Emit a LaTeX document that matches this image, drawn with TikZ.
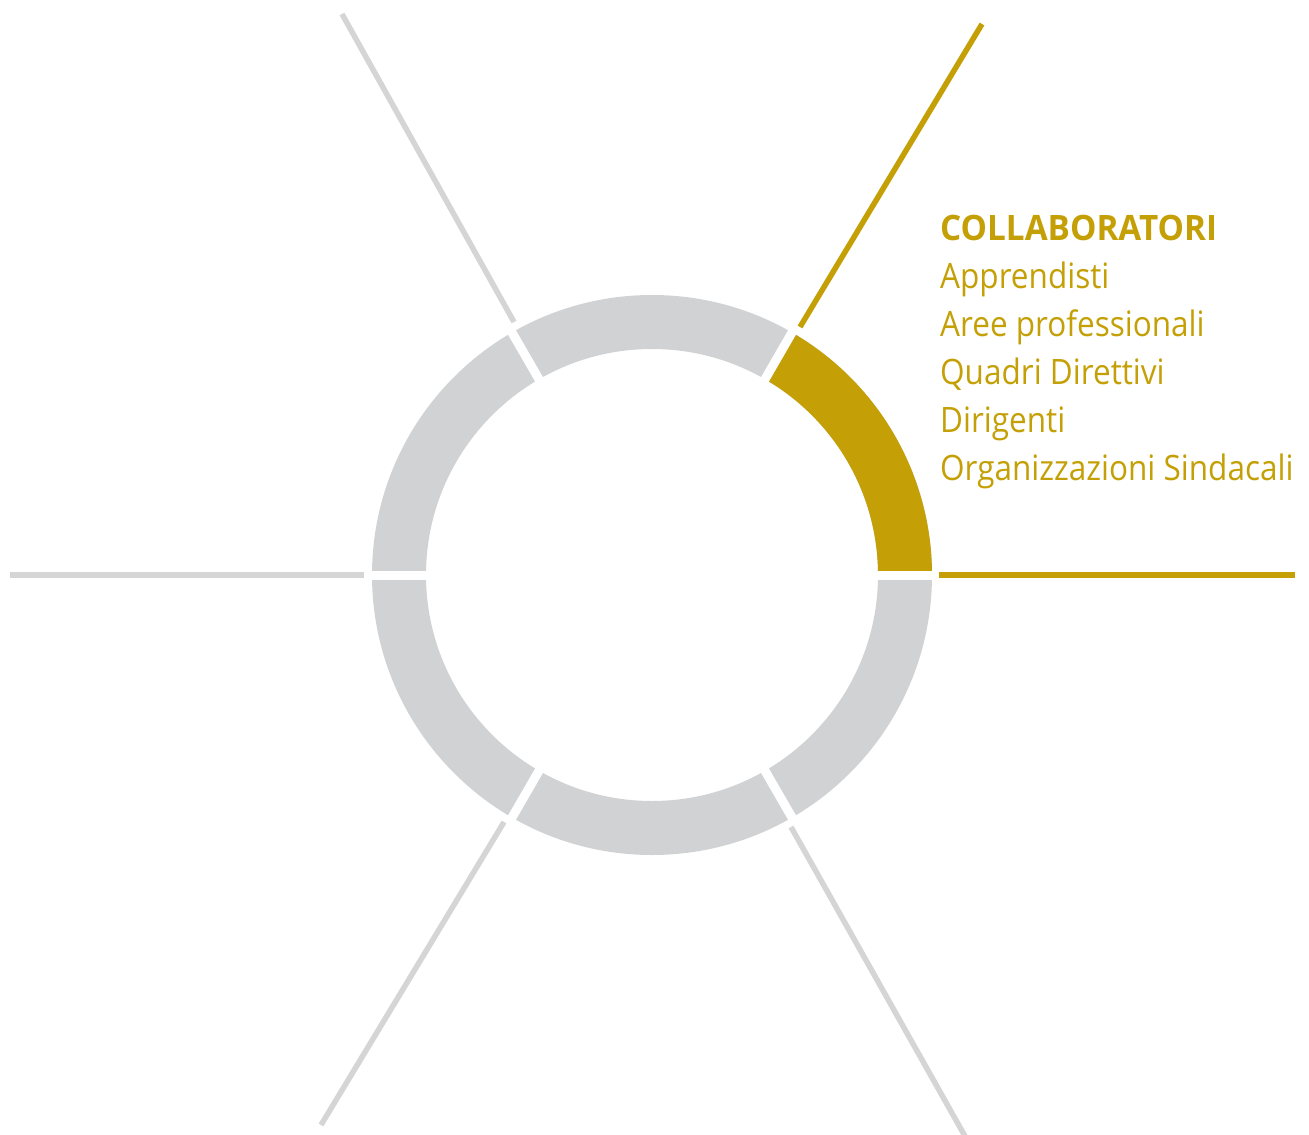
\documentclass[tikz,border=0pt]{standalone}
\usepackage{fontspec}
\newfontfamily\labfont[FakeStretch=0.9]{Open Sans}
\newfontfamily\labboldfont[FakeStretch=0.95]{Open Sans}
\definecolor{gold}{RGB}{196,160,6}
\definecolor{ringgray}{RGB}{209,210,212}
\definecolor{spokegray}{RGB}{213,213,213}
\tikzset{
  spoke/.style={line width=5.5, line cap=butt, spokegray},
  goldspoke/.style={line width=5.5, line cap=butt, gold},
  gapline/.style={white, line width=9},
  lab/.style={anchor=base west, inner sep=0, text=gold, font=\labfont\fontsize{35}{40}\selectfont},
  labbold/.style={lab, font=\labboldfont\bfseries\fontsize{35}{40}\selectfont}
}
\begin{document}
\begin{tikzpicture}[x=1pt,y=-1pt]
\useasboundingbox (0,0) rectangle (1309,1135);
% ring
\begin{scope}[shift={(652,575)}, yscale=-1]
  \fill[ringgray, even odd rule] (0,0) circle[radius=280] (0,0) circle[radius=226];
  \fill[gold] (0:280) arc[start angle=0,end angle=60,radius=280] -- (60:226) arc[start angle=60,end angle=0,radius=226] -- cycle;
  \foreach \a in {0,60,...,300} \draw[gapline] (\a:215) -- (\a:292);
\end{scope}
% spokes
\coordinate (ura) at (800,327); \coordinate (urb) at (982,24);
\coordinate (ula) at (514,322); \coordinate (ulb) at (342,14);
\coordinate (la) at (364,575);  \coordinate (lb) at (10,575);
\coordinate (ra) at (939,575);  \coordinate (rb) at (1295,575);
\coordinate (bla) at (504,822); \coordinate (blb) at (321,1125);
\coordinate (bra) at (791,827); \coordinate (brb) at (966,1138);
\draw[goldspoke] (ura) -- (urb);
\draw[goldspoke] (ra) -- (rb);
\draw[spoke] (ula) -- (ulb);
\draw[spoke] (la) -- (lb);
\draw[spoke] (bla) -- (blb);
\draw[spoke] (bra) -- (brb);
% labels
\node[labbold] (t0) at (940,240) {COLLABORATORI};
\node[lab] (t1) at (940,288) {Apprendisti};
\node[lab] (t2) at (940,336) {Aree professionali};
\node[lab] (t3) at (940,384) {Quadri Direttivi};
\node[lab] (t4) at (940,432) {Dirigenti};
\node[lab] (t5) at (940,480) {Organizzazioni Sindacali};
\end{tikzpicture}
\end{document}
